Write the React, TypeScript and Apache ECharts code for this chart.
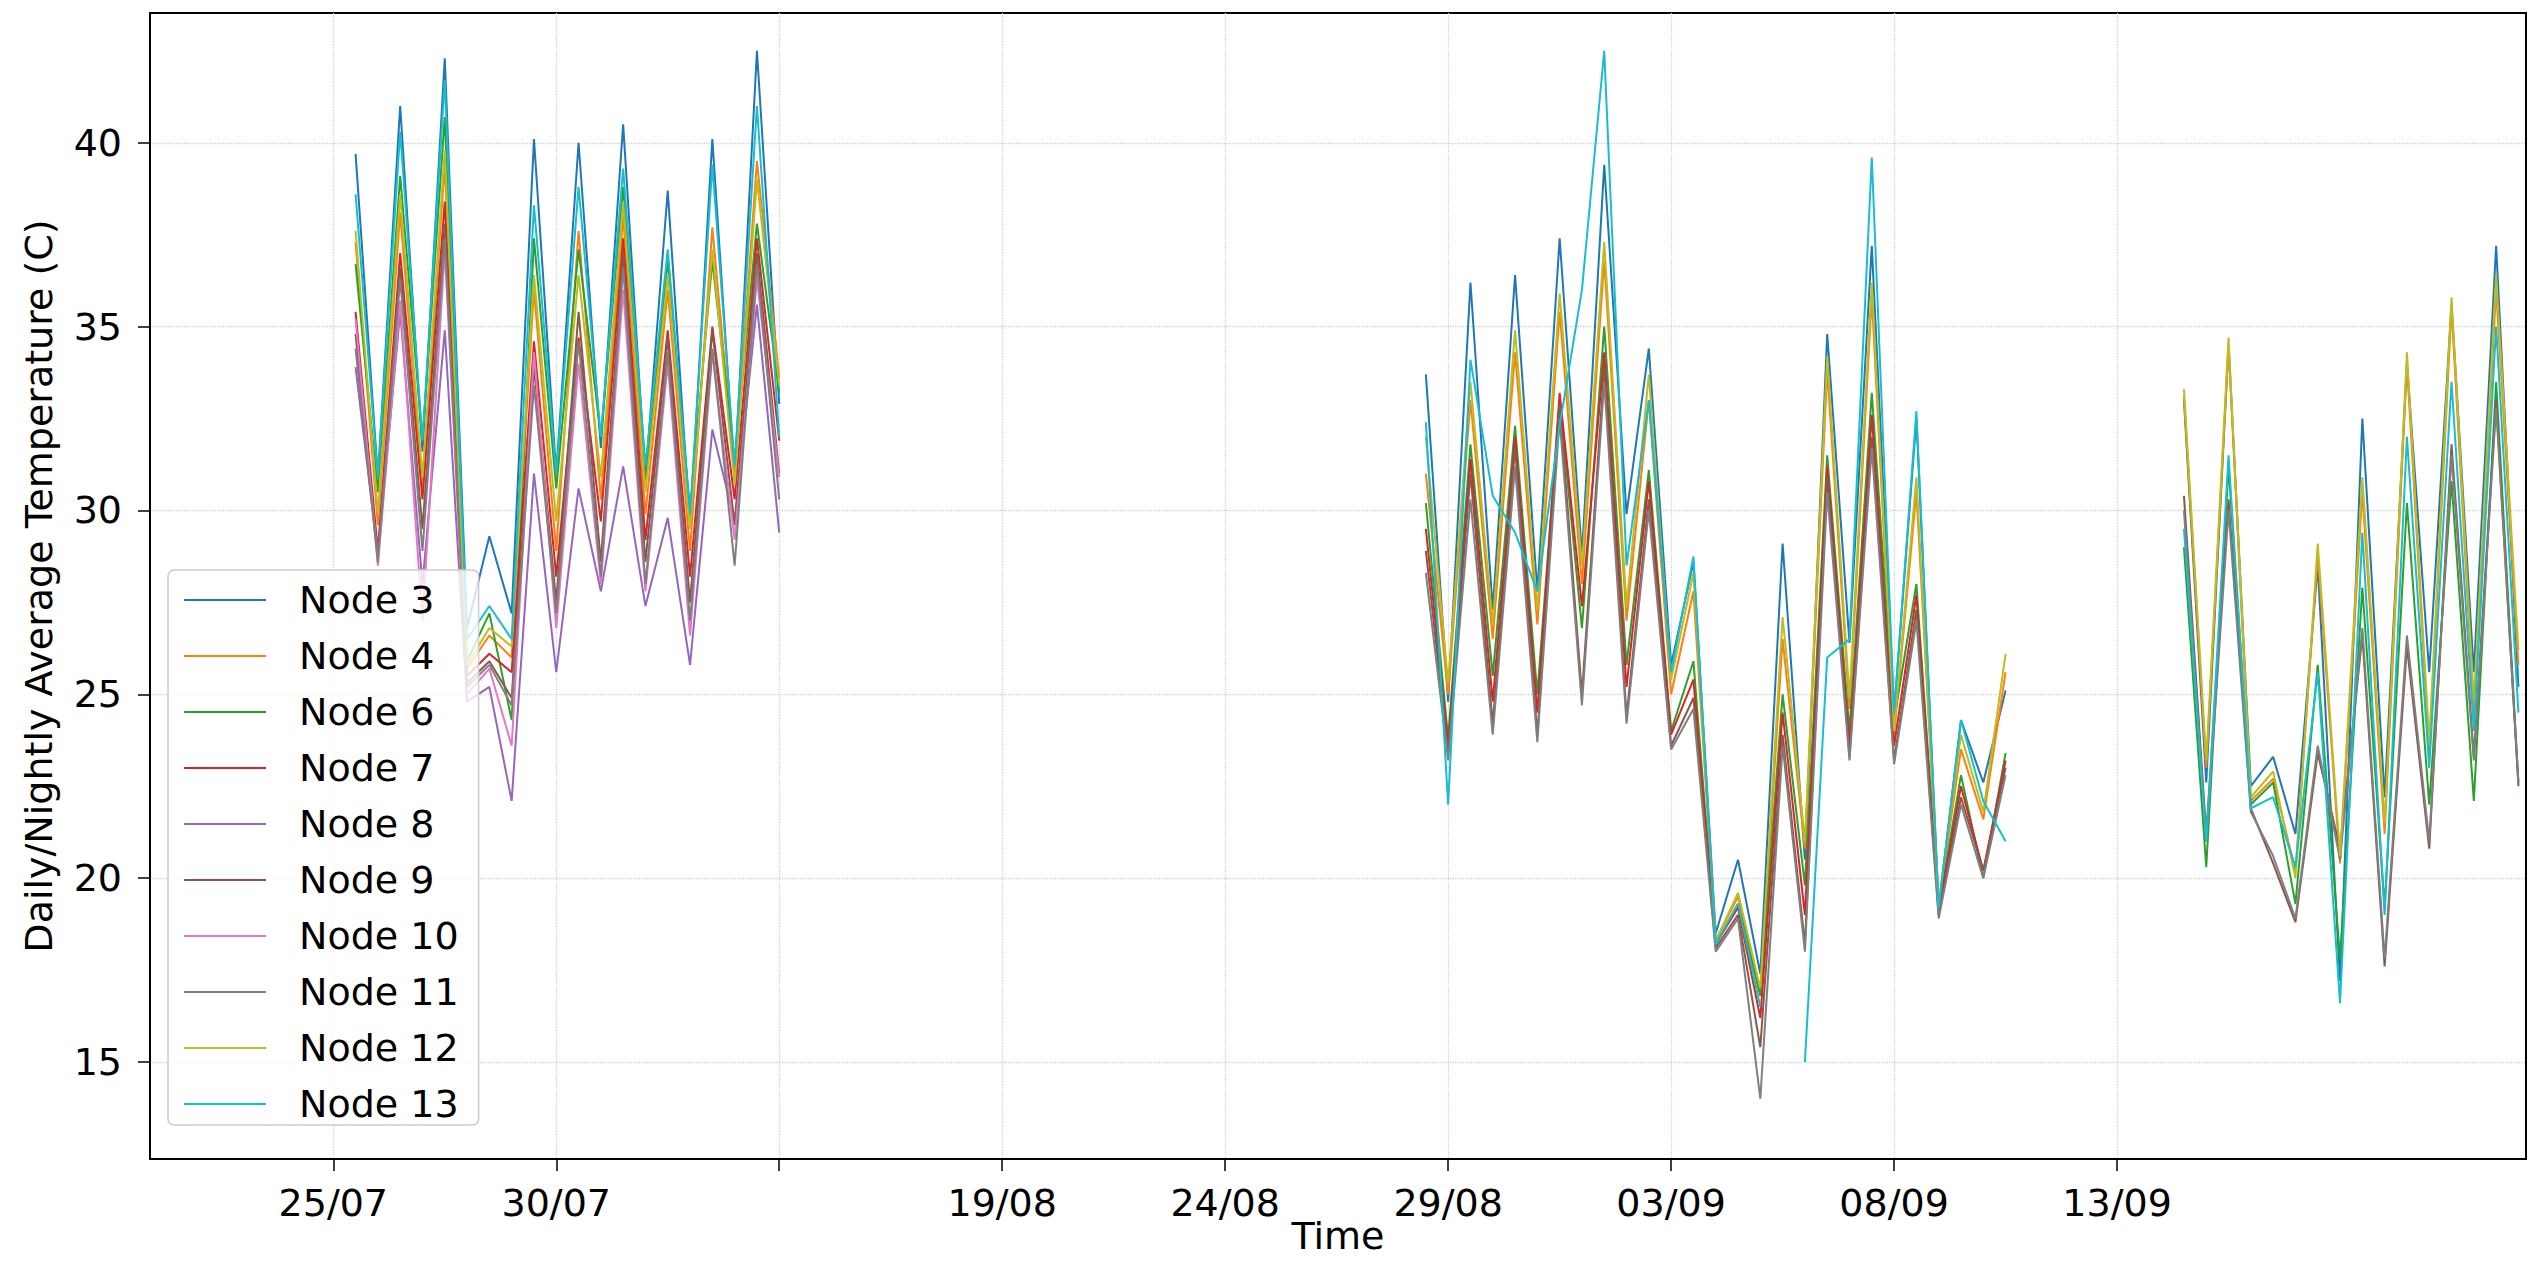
import { useEffect, useRef } from 'react';
import * as echarts from 'echarts';

// ---------- data ----------
const nodeNames = ['Node 3', 'Node 4', 'Node 6', 'Node 7', 'Node 8', 'Node 9', 'Node 10', 'Node 11', 'Node 12', 'Node 13'];
const nodeColors = ['#1f77b4', '#ff7f0e', '#2ca02c', '#d62728', '#9467bd', '#8c564b', '#e377c2', '#7f7f7f', '#bcbd22', '#17becf'];

// x positions (days on the plotted time axis, half-day steps: day / night)
const seg1Days = [0.5, 1, 1.5, 2, 2.5, 3, 3.5, 4, 4.5, 5, 5.5, 6, 6.5, 7, 7.5, 8, 8.5, 9, 9.5, 10];
const seg2Days = [24.5, 25, 25.5, 26, 26.5, 27, 27.5, 28, 28.5, 29, 29.5, 30, 30.5, 31, 31.5, 32, 32.5, 33, 33.5, 34, 34.5, 35, 35.5, 36, 36.5, 37, 37.5];
const seg3Days = [41.5, 42, 42.5, 43, 43.5, 44, 44.5, 45, 45.5, 46, 46.5, 47, 47.5, 48, 48.5, 49];
const gapDays = [17, 39.5];

const xTickValues = [0, 5, 10, 15, 20, 25, 30, 35, 40];
const xTickLabels = ['25/07', '30/07', '', '19/08', '24/08', '29/08', '03/09', '08/09', '13/09'];
const yTickValues = [15, 20, 25, 30, 35, 40];

// segment 1 (20 values)
const node3Seg1 = [39.7, 30.9, 41.0, 31.6, 42.3, 26.8, 29.3, 27.2, 40.1, 31.0, 40.0, 31.7, 40.5, 30.9, 38.7, 29.6, 40.1, 30.9, 42.5, 32.9];
const node4Seg1 = [37.3, 29.6, 38.1, 30.6, 39.4, 25.7, 26.6, 26.0, 36.0, 28.9, 37.6, 30.3, 38.0, 29.9, 36.0, 28.9, 37.7, 31.0, 39.5, 33.6];
const node6Seg1 = [36.7, 30.5, 39.1, 31.9, 40.7, 25.9, 27.2, 24.3, 37.4, 30.6, 37.1, 32.0, 38.8, 30.7, 36.8, 30.0, 36.8, 31.3, 37.8, 33.2];
const node7Seg1 = [35.4, 28.9, 37.0, 30.3, 38.4, 25.5, 26.1, 25.6, 34.6, 28.2, 34.7, 29.7, 37.4, 29.2, 34.9, 28.2, 35.0, 30.3, 37.4, 31.9];
const node8Seg1 = [33.9, 28.8, 35.4, 28.0, 34.9, 24.8, 25.2, 22.1, 31.0, 25.6, 30.6, 27.8, 31.2, 27.4, 29.8, 25.8, 32.2, 29.7, 35.6, 29.4];
const node9Seg1 = [34.8, 28.7, 36.6, 29.5, 37.8, 25.3, 25.9, 24.9, 33.9, 27.5, 35.4, 28.6, 37.0, 28.6, 34.7, 27.5, 34.9, 29.6, 37.0, 31.0];
const node10Seg1 = [35.2, 28.5, 35.7, 27.0, 37.1, 25.0, 25.7, 23.6, 34.3, 26.8, 34.0, 28.0, 36.0, 27.8, 34.0, 26.6, 34.3, 29.2, 36.3, 30.9];
const node11Seg1 = [34.4, 28.6, 36.3, 28.9, 37.4, 25.2, 25.8, 24.7, 33.4, 27.2, 34.6, 28.2, 36.6, 28.0, 34.3, 27.0, 34.4, 28.5, 36.7, 30.3];
const node12Seg1 = [37.6, 29.9, 38.6, 30.9, 39.8, 25.8, 26.8, 26.3, 36.4, 29.7, 36.4, 30.9, 38.4, 30.5, 36.4, 29.5, 37.1, 30.7, 39.0, 33.4];
const node13Seg1 = [38.6, 30.9, 40.3, 31.9, 41.7, 26.5, 27.4, 26.5, 38.3, 31.0, 38.8, 32.0, 39.3, 31.2, 37.1, 29.9, 39.4, 31.2, 41.0, 32.0];

// segment 2 (27 values)
const node3Seg2 = [33.7, 24.8, 36.2, 27.3, 36.4, 27.8, 37.4, 28.8, 39.4, 29.9, 34.4, 25.8, 28.6, 18.5, 20.5, 17.4, 29.1, 20.5, 34.8, 26.4, 37.2, 24.5, 32.5, 19.2, 24.3, 22.6, 25.1];
const node4Seg2 = [31.0, 25.0, 33.0, 26.5, 34.3, 26.9, 35.4, 28.0, 36.8, 27.0, 33.0, 25.0, 27.8, 18.3, 19.5, 16.8, 26.5, 20.8, 33.8, 24.6, 35.8, 23.9, 30.5, 19.3, 23.5, 21.6, 25.6];
const node6Seg2 = [30.2, 23.8, 31.8, 25.5, 32.3, 25.0, 33.0, 26.8, 35.0, 25.8, 31.1, 24.0, 25.9, 18.2, 19.3, 16.8, 25.0, 19.8, 31.5, 24.0, 33.2, 24.3, 28.0, 19.2, 22.8, 20.0, 23.4];
const node7Seg2 = [29.5, 23.6, 31.4, 24.8, 32.0, 24.5, 33.2, 27.4, 34.3, 25.2, 30.8, 23.9, 25.4, 18.2, 19.2, 16.2, 24.5, 19.0, 31.2, 23.6, 32.6, 23.6, 27.7, 19.1, 22.5, 20.2, 23.2];
const node9Seg2 = [28.9, 23.4, 31.0, 24.2, 31.7, 23.9, 32.9, 25.0, 33.9, 24.4, 30.3, 23.6, 24.9, 18.1, 19.0, 15.4, 23.9, 18.2, 30.9, 23.3, 32.0, 23.2, 27.3, 19.0, 22.2, 20.2, 23.0];
const node11Seg2 = [28.3, 23.2, 30.3, 23.9, 31.2, 23.7, 32.5, 24.7, 33.5, 24.2, 30.0, 23.5, 24.6, 18.0, 18.9, 14.0, 23.6, 18.0, 30.5, 23.2, 31.7, 23.1, 27.0, 18.9, 22.0, 20.0, 22.8];
const node12Seg2 = [32.0, 25.3, 33.5, 26.9, 34.9, 27.3, 35.9, 28.5, 37.3, 27.4, 33.7, 25.4, 28.3, 18.3, 19.6, 17.0, 27.1, 21.0, 34.2, 24.9, 36.2, 24.0, 30.9, 19.3, 23.9, 21.8, 26.1];
const node13Seg2 = [32.4, 22.0, 34.1, 30.4, 29.4, 27.8, 32.3, 36.0, 42.5, 28.5, 33.0, 25.6, 28.75, 18.2, 19.3, 16.5, null, 15.0, 26.0, 26.5, 39.6, 24.5, 32.7, 19.2, 24.3, 22.1, 21.0];

// segment 3 (16 values)
const node3Seg3 = [33.0, 22.6, 34.5, 22.5, 23.3, 21.2, 28.5, 17.2, 32.5, 22.2, 34.0, 25.6, 35.6, 25.6, 37.2, 25.2];
const node4Seg3 = [33.1, 23.0, 34.5, 22.1, 22.7, 20.2, 28.8, 20.4, 30.5, 21.2, 34.0, 23.4, 35.5, 24.5, 36.0, 25.8];
const node6Seg3 = [29.0, 20.3, 31.2, 22.0, 22.6, 19.3, 25.8, 17.8, 27.9, 19.2, 30.2, 22.0, 30.8, 22.1, 33.5, 22.6];
const node9Seg3 = [30.4, 21.2, 30.3, 21.9, 20.4, 18.8, 23.4, 20.8, 26.6, 17.6, 26.3, 20.8, 31.8, 23.3, 33.0, 22.5];
const node11Seg3 = [30.0, 21.0, 30.0, 21.8, 20.6, 18.9, 23.6, 20.5, 26.8, 17.8, 26.6, 21.0, 31.5, 23.2, 32.8, 22.6];
const node12Seg3 = [33.3, 23.2, 34.7, 22.2, 22.9, 20.0, 29.1, 20.6, 30.9, 21.5, 34.3, 23.7, 35.8, 24.8, 36.4, 26.2];
const node13Seg3 = [29.5, 21.0, 31.5, 21.9, 22.2, 20.3, 25.6, 16.6, 29.4, 19.0, 32.0, 23.0, 33.5, 24.0, 35.0, 24.5];

const nodeSegments: (number | null)[][][] = [
  [node3Seg1, node3Seg2, node3Seg3],
  [node4Seg1, node4Seg2, node4Seg3],
  [node6Seg1, node6Seg2, node6Seg3],
  [node7Seg1, node7Seg2, []],
  [node8Seg1, [], []],
  [node9Seg1, node9Seg2, node9Seg3],
  [node10Seg1, [], []],
  [node11Seg1, node11Seg2, node11Seg3],
  [node12Seg1, node12Seg2, node12Seg3],
  [node13Seg1, node13Seg2, node13Seg3],
];

const segDays = [seg1Days, seg2Days, seg3Days];

function buildData(segs: (number | null)[][]) {
  const out: any[] = [];
  segs.forEach((vals, si) => {
    if (!vals.length) return;
    if (si > 0) out.push([gapDays[si - 1], null]);
    vals.forEach((v, i) => out.push([segDays[si][i], v === null ? null : v]));
  });
  return out;
}

const FONT = 'DejaVu Sans';

export default function App() {
  const ref = useRef<HTMLDivElement>(null);
  useEffect(() => {
    if (!ref.current) return;
    const chart = echarts.init(ref.current, null, { renderer: 'svg' });
    const series = nodeNames.map((name, k) => ({
      name,
      type: 'line',
      data: buildData(nodeSegments[k]),
      symbol: 'none',
      showSymbol: false,
      connectNulls: false,
      lineStyle: { width: 2, color: nodeColors[k] },
      itemStyle: { color: nodeColors[k] },
      emphasis: { disabled: true },
    }));
    const option: any = {
      animation: false,
      backgroundColor: '#ffffff',
      textStyle: { fontFamily: FONT },
      grid: {
        left: 150, right: 16, top: 13, bottom: 102,
        containLabel: false, outerBoundsMode: 'none',
        show: true, borderColor: '#000', borderWidth: 2, backgroundColor: 'transparent',
      },
      xAxis: {
        type: 'value',
        min: -4.11,
        max: 49.17,
        name: 'Time',
        nameLocation: 'middle',
        nameGap: 58,
        nameMoveOverlap: false,
        nameTextStyle: { fontSize: 38, color: '#000', fontFamily: FONT },
        axisLine: { show: true, onZero: false, lineStyle: { color: '#000', width: 2 } },
        axisTick: { show: true, customValues: xTickValues, length: 12, lineStyle: { color: '#000', width: 1.5 } },
        axisLabel: {
          customValues: xTickValues,
          formatter: (v: number) => {
            const i = xTickValues.indexOf(Math.round(v));
            return i >= 0 ? xTickLabels[i] : '';
          },
          fontSize: 38,
          color: '#000',
          fontFamily: FONT,
          margin: 25,
        },
        splitLine: { show: true, lineStyle: { color: '#cfcfcf', type: 'dotted', width: 1.3 } },
      },
      yAxis: {
        type: 'value',
        min: 12.36,
        max: 43.53,
        name: 'Daily/Nightly Average Temperature (C)',
        nameLocation: 'middle',
        nameRotate: 90,
        nameGap: 92,
        nameMoveOverlap: false,
        nameTextStyle: { fontSize: 38, color: '#000', fontFamily: FONT },
        axisLine: { show: true, onZero: false, lineStyle: { color: '#000', width: 2 } },
        axisTick: { show: true, customValues: yTickValues, length: 12, lineStyle: { color: '#000', width: 1.5 } },
        axisLabel: { customValues: yTickValues, fontSize: 38, color: '#000', fontFamily: FONT, margin: 28 },
        splitLine: { show: true, lineStyle: { color: '#cfcfcf', type: 'dotted', width: 1.3 } },
      },
      legend: {
        orient: 'vertical',
        left: 168,
        top: 570,
        data: nodeNames,
        itemWidth: 82,
        itemHeight: 14,
        itemGap: 18,
        padding: [11, 20, 2, 15],
        backgroundColor: 'rgba(255,255,255,0.8)',
        borderColor: '#cccccc',
        borderWidth: 1.5,
        borderRadius: 6,
        selectedMode: false,
        itemStyle: { opacity: 0 },
        lineStyle: { width: 2 },
        textStyle: { fontSize: 38, color: '#000', fontFamily: FONT, lineHeight: 24, padding: [0, 0, 0, 28] },
      },
      series,
    };
    chart.setOption(option);
    return () => chart.dispose();
  }, []);
  return <div ref={ref} style={{ position: 'fixed', left: 0, top: 0, width: 2542, height: 1261, background: '#fff' }} />;
}
